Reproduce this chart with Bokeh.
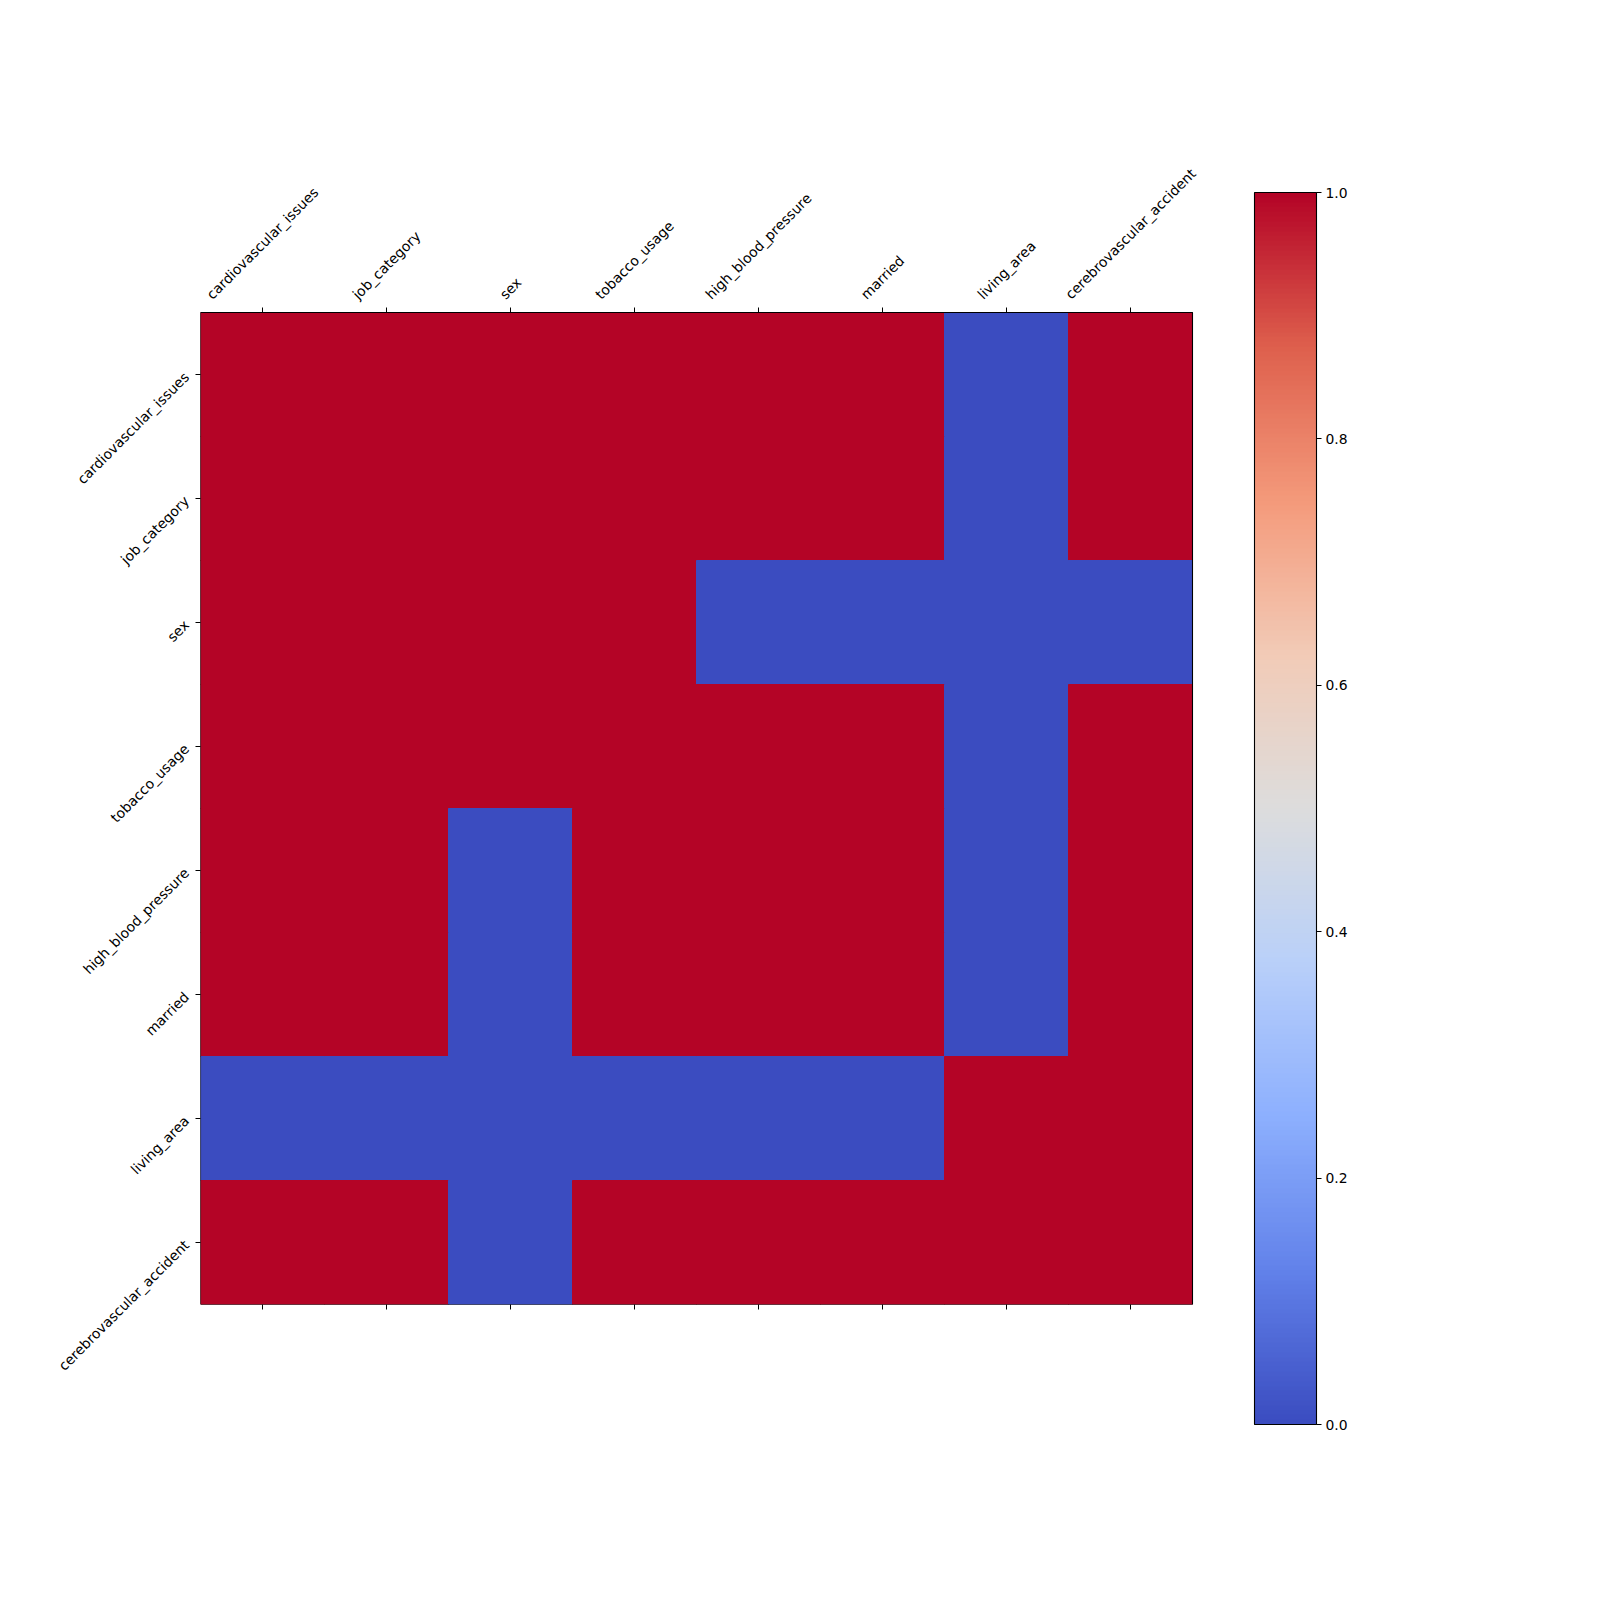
import numpy as np
from bokeh.plotting import figure
from bokeh.models import (Range1d, FixedTicker, LinearColorMapper, PrintfTickFormatter,
                          LinearAxis, ColumnDataSource, ColorBar)
from bokeh.core.properties import value
from bokeh.embed import file_html
from bokeh.resources import INLINE

# ---- data ----
features = ["cardiovascular_issues", "job_category", "sex", "tobacco_usage",
            "high_blood_pressure", "married", "living_area", "cerebrovascular_accident"]
matrix = [
    [1, 1, 1, 1, 1, 1, 0, 1],
    [1, 1, 1, 1, 1, 1, 0, 1],
    [1, 1, 1, 1, 0, 0, 0, 0],
    [1, 1, 1, 1, 1, 1, 0, 1],
    [1, 1, 0, 1, 1, 1, 0, 1],
    [1, 1, 0, 1, 1, 1, 0, 1],
    [0, 0, 0, 0, 0, 0, 1, 1],
    [1, 1, 0, 1, 1, 1, 1, 1],
]
cbar_ticks = [0.0, 0.2, 0.4, 0.6, 0.8, 1.0]

# ---- coolwarm palette (anchor colours, interpolated) ----
anchors = [
    (0.000, (0.2298, 0.2987, 0.7537)),
    (0.125, (0.3843, 0.5098, 0.9176)),
    (0.250, (0.5529, 0.6902, 0.9961)),
    (0.375, (0.7255, 0.8157, 0.9765)),
    (0.500, (0.8654, 0.8654, 0.8654)),
    (0.625, (0.9490, 0.7961, 0.7176)),
    (0.750, (0.9569, 0.6039, 0.4824)),
    (0.875, (0.8706, 0.3765, 0.3020)),
    (1.000, (0.7057, 0.0157, 0.1502)),
]
pos = np.array([a[0] for a in anchors])
rgb = np.array([a[1] for a in anchors])
palette = []
for t in np.linspace(0, 1, 256):
    c = [np.interp(t, pos, rgb[:, k]) for k in range(3)]
    palette.append("#%02x%02x%02x" % tuple(int(round(v * 255)) for v in c))
mapper = LinearColorMapper(palette=palette, low=0, high=1)

FONT = "DejaVu Sans"
FSIZE = 13.9
FS = "%.1fpx" % FSIZE

# approximate DejaVu Sans advance widths (units per 2048 em) for label centering
ADV = {'a': 1255, 'b': 1300, 'c': 1126, 'd': 1300, 'e': 1260, 'f': 721, 'g': 1300,
       'h': 1298, 'i': 569, 'j': 569, 'k': 1186, 'l': 569, 'm': 1995, 'n': 1298,
       'o': 1253, 'p': 1300, 'q': 1300, 'r': 842, 's': 1067, 't': 803, 'u': 1298,
       'v': 1212, 'w': 1675, 'x': 1212, 'y': 1212, 'z': 1075, '_': 1024}


def text_width(s):
    return sum(ADV.get(ch, 1200) for ch in s) * FSIZE / 2048.0


n = len(features)
xs, ys, vs = [], [], []
for r in range(n):
    for c in range(n):
        xs.append(c + 0.5)
        ys.append(r + 0.5)
        vs.append(matrix[r][c])

# layout in page pixels: heatmap x 200..1192, y 312..1304
FRAME_TOP = 100          # frame extended upward / rightward to hold rotated column labels
FRAME_RIGHT = 1230
HEAT_TOP = 312
HEAT_RIGHT = 1192
PX = 992.0 / n           # pixels per cell
extra_top = (HEAT_TOP - FRAME_TOP) / PX
extra_right = (FRAME_RIGHT - HEAT_RIGHT) / PX

p = figure(width=1600, height=1600,
           x_range=Range1d(0, n + extra_right), y_range=Range1d(n, -extra_top),
           x_axis_location=None, y_axis_location="left",
           output_backend="svg", toolbar_location=None,
           min_border_left=200, min_border_right=1600 - FRAME_RIGHT,
           min_border_top=FRAME_TOP, min_border_bottom=1600 - 1304)
p.frame_width = FRAME_RIGHT - 200
p.frame_height = 1304 - FRAME_TOP

src = ColumnDataSource(dict(x=xs, y=ys, v=vs))
p.rect(x="x", y="y", width=1, height=1, source=src,
       fill_color={"field": "v", "transform": mapper},
       line_color={"field": "v", "transform": mapper}, line_width=1)
# heatmap border
p.rect(x=[n / 2.0], y=[n / 2.0], width=n, height=n, fill_color=None,
       line_color="black", line_width=1.1)

ticks = [i + 0.5 for i in range(n)]
overrides = {t: f for t, f in zip(ticks, features)}

top_axis = LinearAxis(fixed_location=0)
bottom_axis = LinearAxis()
p.add_layout(top_axis, "above")
p.add_layout(bottom_axis, "below")

for ax in [top_axis, bottom_axis] + list(p.yaxis):
    ax.ticker = FixedTicker(ticks=ticks)
    ax.major_label_overrides = overrides
    ax.major_label_orientation = np.pi / 4
    ax.major_label_text_font = FONT
    ax.major_label_text_font_size = FS
    ax.major_label_text_color = "black"
    ax.major_tick_out = 5
    ax.major_tick_in = 0
    ax.minor_tick_out = 0
    ax.minor_tick_in = 0
    ax.major_tick_line_color = "black"
    ax.axis_line_color = None
    ax.major_label_standoff = 9

for ax in [top_axis, bottom_axis]:
    ax.major_label_text_font_size = "0px"
    ax.major_label_text_alpha = 0

# column labels: rotated 45 deg, bounding box centred above each tick
LINE_H = 16.0
lab_x, lab_y = [], []
for t, f in zip(ticks, features):
    half = (text_width(f) + LINE_H) * np.sin(np.pi / 4) / 2.0
    lab_x.append(t)
    lab_y.append(-(10 + half) / PX)
p.text(x=lab_x, y=lab_y, text=features, angle=np.pi / 4,
       text_align="center", text_baseline="middle",
       text_font=value(FONT), text_font_size=value(FS), text_color="black")

p.grid.visible = False
p.outline_line_color = None
p.background_fill_color = "white"
p.border_fill_color = "white"

# colour bar: x 1254..1316, y 192..1424
cb = ColorBar(color_mapper=mapper, location=(1254 - 200, -(1424 - 1304)),
              width=62, height=1232, padding=0, margin=0,
              ticker=FixedTicker(ticks=cbar_ticks),
              formatter=PrintfTickFormatter(format="%.1f"),
              major_label_text_font=FONT, major_label_text_font_size=FS,
              major_label_text_color="black",
              major_tick_out=5, major_tick_in=0, major_tick_line_color="black",
              minor_tick_out=0, minor_tick_in=0,
              bar_line_color="black", bar_line_width=1.1,
              border_line_color=None, background_fill_color=None,
              label_standoff=4)
p.add_layout(cb, "center")

open("out.html", "w").write(file_html(p, INLINE))
